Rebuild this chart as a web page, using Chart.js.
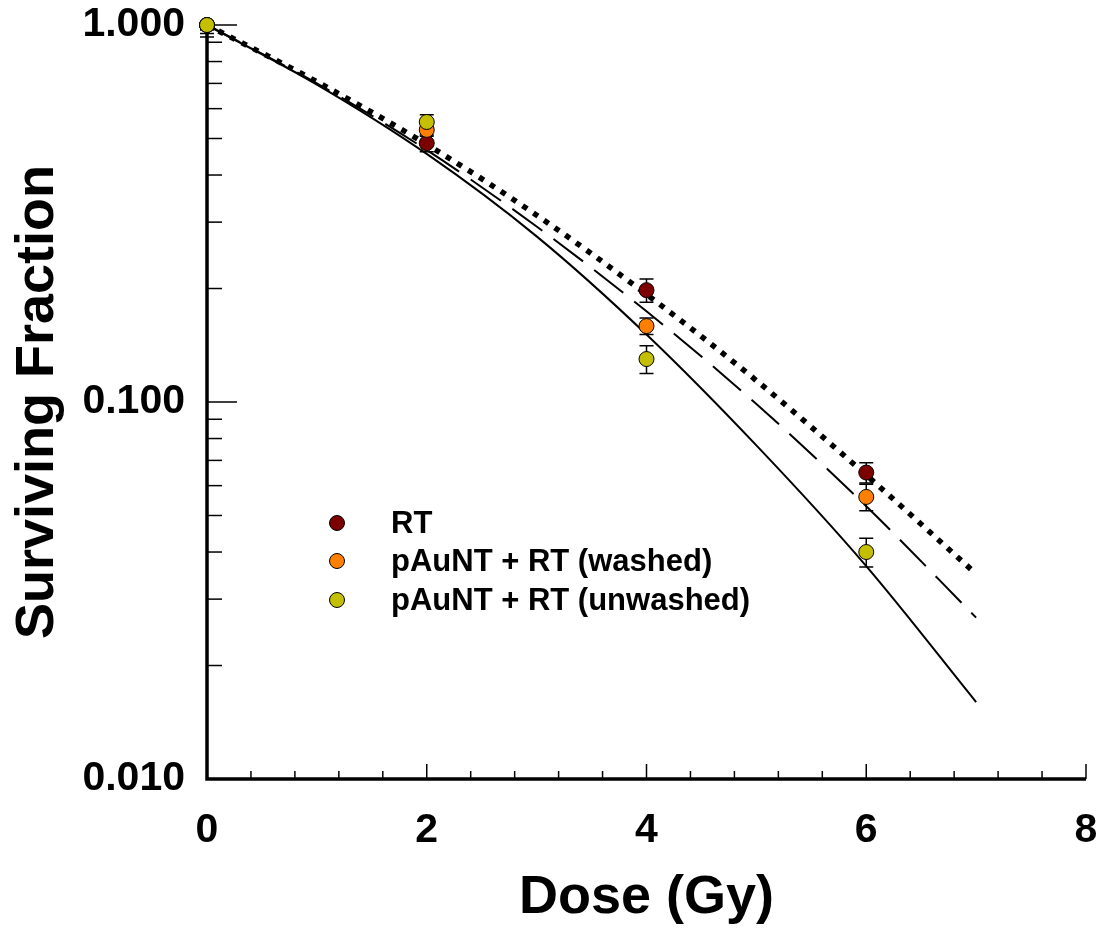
<!DOCTYPE html>
<html>
<head>
<meta charset="utf-8">
<script src="https://cdn.jsdelivr.net/npm/chart.js@4.4.1/dist/chart.umd.min.js"></script>
<style>
	html, body { margin: 0; padding: 0; background: #fff; }
</style>
</head>
<body>
<canvas id="myChart" width="1104" height="945"></canvas>
<script>
// measured points
const doses = [0, 2, 4, 6]
const rtSF = [1.0, 0.486, 0.198, 0.065]
const rtErr = [0.05, 0.025, 0.014, 0.004]
const washedSF = [1.0, 0.527, 0.159, 0.056]
const washedErr = [0.07, 0.02, 0.008, 0.0045]
const unwashedSF = [1.0, 0.553, 0.130, 0.040]
const unwashedErr = [0.03, 0.025, 0.011, 0.0035]

// fitted curves
const fitDoses = [0, 1, 2, 3, 4, 5, 6, 7]
const rtFit = [1.0, 0.707, 0.482, 0.313, 0.193, 0.114, 0.064, 0.035]
const washedFit = [1.0, 0.700, 0.466, 0.292, 0.174, 0.0988, 0.0529, 0.0268]
const unwashedFit = [1.0, 0.695, 0.455, 0.275, 0.151, 0.0767, 0.0367, 0.016]

const seriesNames = ["RT", "pAuNT + RT (washed)", "pAuNT + RT (unwashed)"]
const seriesColors = ["#7c0000", "#ff8000", "#c4bf00"]

const xTickValues = [0, 0.4, 0.8, 1.2, 1.6, 2, 2.4, 2.8, 3.2, 3.6, 4, 4.4, 4.8, 5.2, 5.6, 6, 6.4, 6.8, 7.2, 7.6, 8]
const xLabelValues = [0, 2, 4, 6, 8]
const yTickValues = [0.01, 0.02, 0.03, 0.04, 0.05, 0.06, 0.07, 0.08, 0.09, 0.1, 0.2, 0.3, 0.4, 0.5, 0.6, 0.7, 0.8, 0.9, 1]
const yLabelValues = [0.01, 0.1, 1]

const FONT = "'Liberation Sans', Arial, sans-serif"

function toPoints(xs, ys) {
	return xs.map((x, i) => ({ x: x, y: ys[i] }))
}

function pointSet(i, ys, errs, order) {
	return {
		label: seriesNames[i],
		data: toPoints(doses, ys),
		errors: errs,
		showLine: false,
		pointRadius: 7.5,
		pointBorderWidth: 1,
		pointBorderColor: "#000",
		pointBackgroundColor: seriesColors[i],
		clip: false,
		order: order
	}
}

function fitSet(ys, dash, width, order) {
	return {
		label: "fit",
		data: toPoints(fitDoses, ys),
		showLine: true,
		pointRadius: 0,
		borderColor: "#000",
		borderWidth: width,
		borderDash: dash,
		borderCapStyle: "butt",
		cubicInterpolationMode: "monotone",
		clip: false,
		order: order
	}
}

// axes with inward ticks, and error bars
const axesAndErrors = {
	id: "axesAndErrors",
	beforeDatasetsDraw(chart) {
		const ctx = chart.ctx
		const area = chart.chartArea
		const xs = chart.scales.x
		const ys = chart.scales.y
		ctx.save()
		ctx.strokeStyle = "#000"

		ctx.lineWidth = 1.5
		xTickValues.forEach(v => {
			const px = xs.getPixelForValue(v)
			const len = xLabelValues.includes(v) ? 15 : 8
			ctx.beginPath()
			ctx.moveTo(px, area.bottom)
			ctx.lineTo(px, area.bottom - len)
			ctx.stroke()
		})
		yTickValues.forEach(v => {
			const py = ys.getPixelForValue(v)
			const len = yLabelValues.includes(v) ? 30 : 15
			ctx.beginPath()
			ctx.moveTo(area.left, py)
			ctx.lineTo(area.left + len, py)
			ctx.stroke()
		})

		ctx.lineWidth = 3.5
		ctx.beginPath()
		ctx.moveTo(area.left, area.top - 2)
		ctx.lineTo(area.left, area.bottom)
		ctx.lineTo(area.right, area.bottom)
		ctx.stroke()

		// error bars, clipped to the plot area
		ctx.beginPath()
		ctx.rect(area.left - 10, area.top, area.right - area.left + 20, area.bottom - area.top)
		ctx.clip()
		ctx.lineWidth = 1.5
		chart.data.datasets.forEach(ds => {
			if (!ds.errors) return
			ds.data.forEach((p, i) => {
				const px = xs.getPixelForValue(p.x)
				const top = ys.getPixelForValue(p.y + ds.errors[i])
				const bot = ys.getPixelForValue(p.y - ds.errors[i])
				ctx.beginPath()
				ctx.moveTo(px, top)
				ctx.lineTo(px, bot)
				ctx.moveTo(px - 7, top)
				ctx.lineTo(px + 7, top)
				ctx.moveTo(px - 7, bot)
				ctx.lineTo(px + 7, bot)
				ctx.stroke()
			})
		})
		ctx.restore()
	},
	afterDraw(chart) {
		// legend inside the plot
		const ctx = chart.ctx
		const rows = [523, 561, 600]
		ctx.save()
		ctx.font = "bold 31px " + FONT
		ctx.textBaseline = "middle"
		ctx.textAlign = "left"
		seriesNames.forEach((name, i) => {
			ctx.beginPath()
			ctx.arc(337, rows[i], 7.5, 0, Math.PI * 2)
			ctx.fillStyle = seriesColors[i]
			ctx.fill()
			ctx.lineWidth = 1
			ctx.strokeStyle = "#000"
			ctx.stroke()
			ctx.fillStyle = "#000"
			ctx.fillText(name, 391, rows[i] + 1)
		})
		ctx.restore()
	}
}

new Chart("myChart", {
	type: "scatter",
	data: {
		datasets: [
			pointSet(2, unwashedSF, unwashedErr, 0),
			pointSet(1, washedSF, washedErr, 1),
			pointSet(0, rtSF, rtErr, 2),
			fitSet(unwashedFit, [], 2, 3),
			fitSet(washedFit, [37, 14], 2, 4),
			fitSet(rtFit, [5.5, 7.5], 5.5, 5)
		]
	},
	options: {
		responsive: false,
		animation: false,
		layout: {
			padding: { top: 25, right: 18, left: 0, bottom: 0 }
		},
		plugins: {
			legend: { display: false },
			tooltip: { enabled: false }
		},
		scales: {
			x: {
				type: "linear",
				min: 0,
				max: 8,
				afterBuildTicks: s => { s.ticks = xTickValues.map(v => ({ value: v })) },
				afterFit: s => {
					s.height = 166
					s.paddingLeft = 0
					s.paddingRight = 0
				},
				grid: { display: false, drawTicks: false },
				border: { display: false },
				ticks: {
					autoSkip: false,
					maxRotation: 0,
					padding: 27,
					color: "#000",
					font: { family: FONT, size: 41, weight: "bold" },
					callback: v => xLabelValues.includes(v) ? String(v) : ""
				},
				title: {
					display: true,
					text: "Dose (Gy)",
					color: "#000",
					font: { family: FONT, size: 54, weight: "bold" },
					padding: { top: 0, bottom: 14 }
				}
			},
			y: {
				type: "logarithmic",
				min: 0.01,
				max: 1,
				afterBuildTicks: s => { s.ticks = yTickValues.map(v => ({ value: v })) },
				afterFit: s => {
					s.width = 207
					s.paddingTop = 0
					s.paddingBottom = 0
				},
				grid: { display: false, drawTicks: false },
				border: { display: false },
				ticks: {
					autoSkip: false,
					padding: 22,
					color: "#000",
					font: { family: FONT, size: 41, weight: "bold" },
					callback: v => yLabelValues.includes(v) ? v.toFixed(3) : ""
				},
				title: {
					display: true,
					text: "Surviving Fraction",
					color: "#000",
					font: { family: FONT, size: 54, weight: "bold" },
					padding: { top: 6, bottom: 0 }
				}
			}
		}
	},
	plugins: [axesAndErrors]
})
</script>
</body>
</html>
